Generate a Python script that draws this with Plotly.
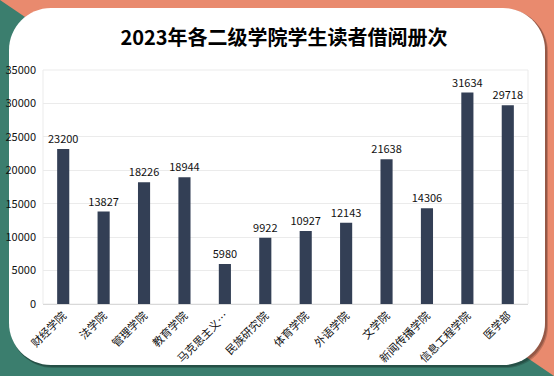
import plotly.graph_objects as go

categories = ["财经学院", "法学院", "管理学院", "教育学院", "马克思主义…", "民族研究院",
              "体育学院", "外语学院", "文学院", "新闻传播学院", "信息工程学院", "医学部"]
values = [23200, 13827, 18226, 18944, 5980, 9922, 10927, 12143, 21638, 14306, 31634, 29718]
y_ticks = [0, 5000, 10000, 15000, 20000, 25000, 30000, 35000]
y_tick_labels = ["0", "5000", "10000", "15000", "20000", "25000", "30000", "35000"]
title_text = "2023年各二级学院学生读者借阅册次"

FW, FH = 554, 376
L, R, T, B = 43, 26, 70, 72
PW, PH = FW - L - R, FH - T - B


def fx(px):
    return (px - L) / PW


def fy(py):
    return 1 - (py - T) / PH


def rrect(x0, y0, x1, y1, r):
    k = 0.45
    pts = []
    pts.append(f"M{fx(x0 + r)},{fy(y0)}")
    pts.append(f"L{fx(x1 - r)},{fy(y0)}")
    pts.append(f"C{fx(x1 - r * k)},{fy(y0)} {fx(x1)},{fy(y0 + r * k)} {fx(x1)},{fy(y0 + r)}")
    pts.append(f"L{fx(x1)},{fy(y1 - r)}")
    pts.append(f"C{fx(x1)},{fy(y1 - r * k)} {fx(x1 - r * k)},{fy(y1)} {fx(x1 - r)},{fy(y1)}")
    pts.append(f"L{fx(x0 + r)},{fy(y1)}")
    pts.append(f"C{fx(x0 + r * k)},{fy(y1)} {fx(x0)},{fy(y1 - r * k)} {fx(x0)},{fy(y1 - r)}")
    pts.append(f"L{fx(x0)},{fy(y0 + r)}")
    pts.append(f"C{fx(x0)},{fy(y0 + r * k)} {fx(x0 + r * k)},{fy(y0)} {fx(x0 + r)},{fy(y0)}")
    pts.append("Z")
    return " ".join(pts)


shapes = [
    dict(type="path", xref="paper", yref="paper", layer="below",
         path=f"M{fx(0)},{fy(0)} L{fx(0)},{fy(FH)} L{fx(FW)},{fy(FH)} Z",
         fillcolor="#3B7E6E", line=dict(width=0)),
    dict(type="path", xref="paper", yref="paper", layer="below",
         path=rrect(11, 10, 548, 368, 42), fillcolor="rgba(0,0,0,0.18)", line=dict(width=0)),
    dict(type="path", xref="paper", yref="paper", layer="below",
         path=rrect(10, 9, 547, 367, 42), fillcolor="rgba(0,0,0,0.22)", line=dict(width=0)),
    dict(type="path", xref="paper", yref="paper", layer="below",
         path=rrect(9, 8, 545, 365, 42), fillcolor="#FFFFFF", line=dict(width=0)),
    dict(type="rect", xref="paper", yref="paper", layer="below",
         x0=0, x1=1, y0=0, y1=1, fillcolor="rgba(0,0,0,0)",
         line=dict(color="#EBEBEB", width=1)),
]

fig = go.Figure()
fig.add_trace(go.Bar(
    x=categories, y=values, marker=dict(color="#333F55", line=dict(width=0)),
    text=[str(v) for v in values], textposition="outside", cliponaxis=False,
    constraintext="none", hoverinfo="skip",
    textfont=dict(family="Noto Sans CJK SC", size=11, color="#111111"),
))

fig.update_layout(
    width=FW, height=FH,
    margin=dict(l=L, r=R, t=T, b=B, pad=0, autoexpand=False),
    paper_bgcolor="#E98A6E",
    plot_bgcolor="rgba(0,0,0,0)",
    bargap=0.7,
    showlegend=False,
    shapes=shapes,
    font=dict(family="Noto Sans CJK SC", size=11, color="#222222"),
    title=dict(text=f"<b>{title_text}</b>", x=284 / FW, xanchor="center",
               y=1 - 38 / FH, yanchor="middle", yref="container",
               font=dict(family="Noto Sans CJK SC", size=20, color="#000000")),
    xaxis=dict(tickangle=-45, showgrid=False, showline=True, linecolor="#D9D9D9",
               linewidth=1, ticks="", automargin=False,
               tickfont=dict(size=11, color="#111111")),
    yaxis=dict(range=[0, 35000], tickvals=y_ticks, ticktext=y_tick_labels,
               showgrid=True, gridcolor="#EBEBEB", automargin=False,
               zeroline=False, showline=False, ticks="", ticklabelstandoff=6,
               tickfont=dict(size=11, color="#111111")),
)

fig.write_html("out.html", config={"displayModeBar": False},
               post_script="document.body.style.margin='0px';")
